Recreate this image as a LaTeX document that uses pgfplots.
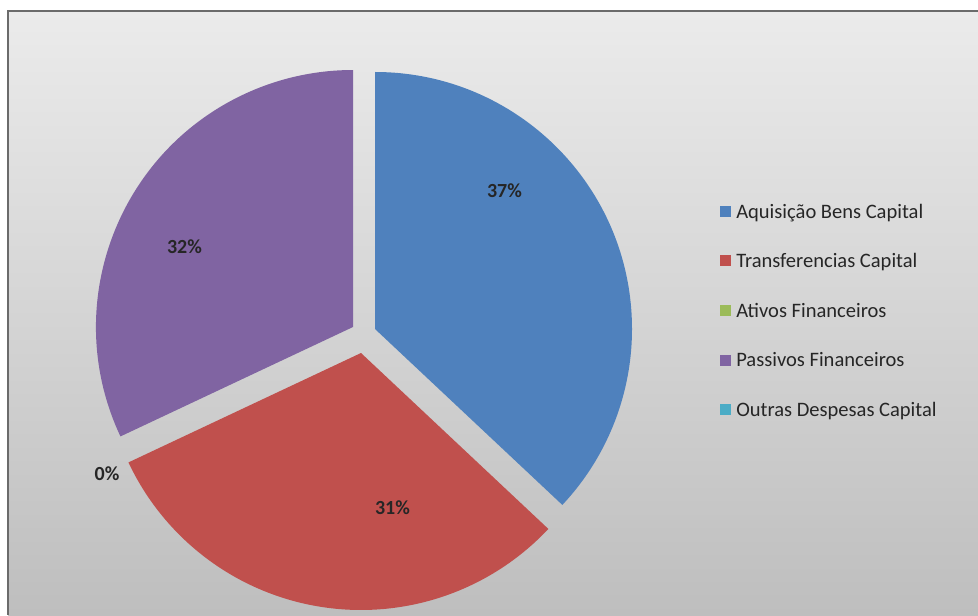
\documentclass[border=0pt]{standalone}
\usepackage{pgfplots}
\pgfplotsset{compat=1.18}
\usepackage{fontspec}
\setmainfont{Carlito}
\definecolor{cBlue}{HTML}{4F81BD}
\definecolor{cRed}{HTML}{C0504D}
\definecolor{cGreen}{HTML}{9BBB59}
\definecolor{cPurple}{HTML}{8064A2}
\definecolor{cCyan}{HTML}{4BACC6}
\definecolor{bgTop}{HTML}{EBEBEB}
\definecolor{bgBot}{HTML}{BEBEBE}
\definecolor{frame}{HTML}{6B6B6B}
% slice values (percent)
\def\vA{37}\def\vB{31}\def\vC{0}\def\vD{32}\def\vE{0}
\pgfmathsetmacro\aA{90}
\pgfmathsetmacro\aB{\aA-3.6*\vA}
\pgfmathsetmacro\aC{\aB-3.6*\vB}
\pgfmathsetmacro\aD{\aC-3.6*\vC}
\pgfmathsetmacro\aE{\aD-3.6*\vD}
\def\R{192.75pt}
\tikzset{leglab/.style={anchor=base west, inner sep=0pt, font=\fontsize{15.4}{18}\selectfont, text=black!85},
  pct/.style={anchor=base, inner sep=0pt, font=\fontsize{15}{18}\selectfont\bfseries, text=black!85}}
\begin{document}
\begin{tikzpicture}
\begin{axis}[
  width=733.5pt, height=461.25pt, scale only axis,
  xmin=0, xmax=978, ymin=0, ymax=615,
  hide axis, clip=false,
]
\coordinate (BL) at (axis cs:0,0);
\coordinate (TR) at (axis cs:978,615);
% background
\fill[white] (axis cs:0,0) rectangle (axis cs:978,615);
\shade[top color=bgTop, bottom color=bgBot] (axis cs:8,0) rectangle (axis cs:978,604);
\draw[frame, line width=1.5pt] (axis cs:8,0) -- (axis cs:8,604) -- (axis cs:978,604);
% slices
\fill[cBlue] (axis cs:375,286) -- ++(\aA:\R) arc[start angle=\aA, end angle=\aB, radius=\R] -- cycle;
\fill[cRed] (axis cs:361,262) -- ++(\aB:\R) arc[start angle=\aB, end angle=\aC, radius=\R] -- cycle;
\fill[cPurple] (axis cs:353,288) -- ++(\aD:\R) arc[start angle=\aD, end angle=\aE, radius=\R] -- cycle;
% data labels
\node[pct] at (axis cs:504.5,417.6) {\vA\%};
\node[pct] at (axis cs:392.5,100.6) {\vB\%};
\node[pct] at (axis cs:107,134.6) {\vC\%};
\node[pct] at (axis cs:184.5,361.6) {\vD\%};
% legend
\fill[cBlue]   (axis cs:720,398) rectangle (axis cs:731,409);
\fill[cRed]    (axis cs:720,348.5) rectangle (axis cs:731,359.5);
\fill[cGreen]  (axis cs:720,299) rectangle (axis cs:731,310);
\fill[cPurple] (axis cs:720,249.5) rectangle (axis cs:731,260.5);
\fill[cCyan]   (axis cs:720,200) rectangle (axis cs:731,211);
\node[leglab] at (axis cs:736,396.6) {Aquisição Bens Capital};
\node[leglab] at (axis cs:736,347.1) {Transferencias Capital};
\node[leglab] at (axis cs:736,297.6) {Ativos Financeiros};
\node[leglab] at (axis cs:736,248.1) {Passivos Financeiros};
\node[leglab] at (axis cs:736,198.6) {Outras Despesas Capital};
\end{axis}
\pgfresetboundingbox
\path[use as bounding box] (BL) rectangle (TR);
\end{tikzpicture}
\end{document}
